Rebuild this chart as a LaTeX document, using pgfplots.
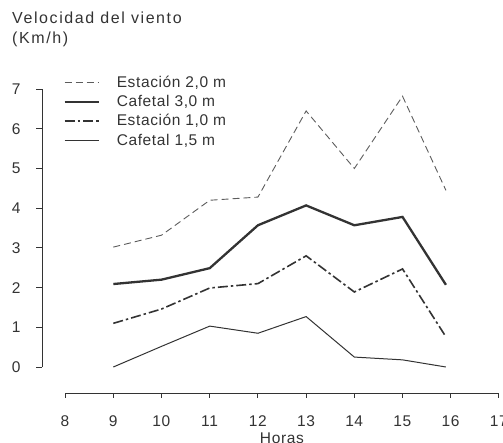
\documentclass[border=0pt]{standalone}
\usepackage{pgfplots}
\pgfplotsset{compat=1.18}
\usepackage{fontspec}
\setmainfont{Liberation Sans}[LetterSpace=4]
\definecolor{ink}{gray}{0.2}
\begin{document}
\begin{tikzpicture}
\path[use as bounding box] (0pt,0pt) rectangle (503pt,-443pt);
\node[anchor=north west, align=left, inner sep=0pt, font=\fontsize{16}{19.5}\selectfont\addfontfeatures{LetterSpace=10}, text=ink] at (12pt,-12pt) {Velocidad del viento\\(Km/h)};

\begin{axis}[
  at={(42pt,-367pt)}, anchor=south west,
  scale only axis, x=48.2pt, y=39.7pt,
  xmin=7.52, xmax=17, ymin=0, ymax=7,
  axis y line=left, axis x line=none,
  axis line style={-, ink, line width=0.9pt},
  tick style={ink, line width=0.9pt},
  ytick={0,1,...,7},
  tick align=outside, major tick length=6pt,
  /pgf/number format/assume math mode=true,
  yticklabel style={font=\fontsize{15.5}{18}\selectfont, text=ink, xshift=-12pt},
  clip=false,
  legend style={at={(axis description cs:0.04,1.061)}, anchor=north west, draw=none, fill=none,
    font=\fontsize{15.5}{18}\selectfont, text=ink, row sep=2.3pt,
    /tikz/every odd column/.append style={column sep=15pt}},
  legend cell align=left,
  legend image code/.code={\draw[#1] (0pt,0pt) -- (34pt,0pt);},
]
\addplot[ink!80, line width=0.9pt, dash pattern=on 7pt off 4pt] coordinates {
  (9,3.02) (10,3.32) (11,4.2) (12,4.28) (13,6.45) (14,5.0) (15,6.82) (15.9,4.45)};
\addlegendentry{Estación 2,0 m}
\addplot[ink, line width=2.3pt] coordinates {
  (9,2.09) (10,2.2) (11,2.49) (12,3.57) (13,4.07) (14,3.57) (15,3.78) (15.9,2.07)};
\addlegendentry{Cafetal 3,0 m}
\addplot[ink, line width=1.6pt, dash pattern=on 10pt off 3pt on 2.5pt off 3pt] coordinates {
  (9,1.1) (10,1.46) (11,1.99) (12,2.1) (13,2.8) (14,1.89) (15,2.47) (15.9,0.76)};
\addlegendentry{Estación 1,0 m}
\addplot[ink, line width=1pt] coordinates {
  (9,0) (10,0.52) (11,1.03) (12,0.85) (13,1.27) (14,0.25) (15,0.18) (15.9,0)};
\addlegendentry{Cafetal 1,5 m}
\end{axis}

\begin{axis}[
  at={(65pt,-393pt)}, anchor=south west,
  scale only axis, x=48.2pt, y=1pt,
  xmin=8, xmax=17, ymin=0, ymax=1,
  axis x line=bottom, axis y line=none,
  axis line style={-, ink, line width=0.9pt},
  tick style={ink, line width=0.9pt},
  xtick={8,9,...,17},
  tick align=outside, major tick length=5pt,
  /pgf/number format/assume math mode=true,
  xticklabel style={font=\fontsize{15.5}{18}\selectfont, text=ink, yshift=-14pt},
  xlabel={Horas},
  xlabel style={font=\fontsize{15.5}{18}\selectfont, text=ink, yshift=1pt},
]
\end{axis}
\end{tikzpicture}
\end{document}
